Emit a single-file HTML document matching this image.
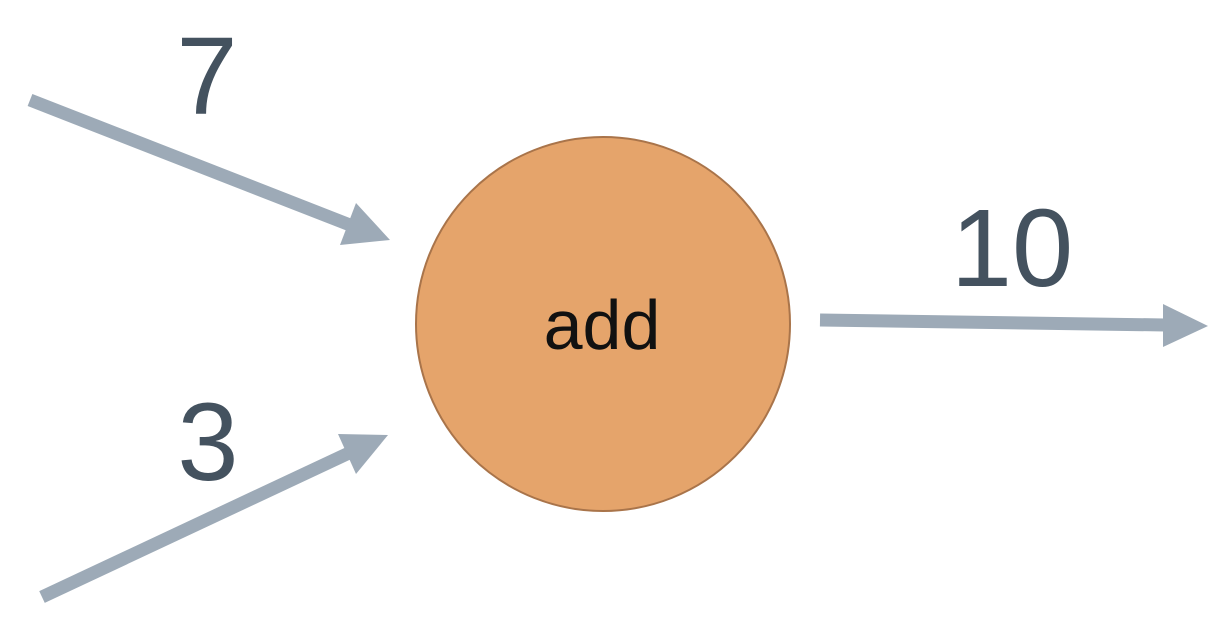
<!DOCTYPE html>
<html><head><meta charset="utf-8"><style>
html,body{margin:0;padding:0;background:#fff;}
svg{display:block;}
text{font-family:"Liberation Sans","DejaVu Sans",sans-serif;}
</style></head><body>
<svg width="1230" height="618" viewBox="0 0 1230 618" xmlns="http://www.w3.org/2000/svg">
<circle cx="603" cy="324" r="187" fill="#E5A46B" stroke="#A9744A" stroke-width="2"/>
<text x="602" y="349" font-size="70" text-anchor="middle" fill="#111">add</text>
<g stroke="#9DAAB7" stroke-width="13" fill="none">
<line x1="30" y1="100" x2="350" y2="225"/>
<line x1="42" y1="597" x2="349" y2="453"/>
<line x1="820" y1="320" x2="1165" y2="325"/>
</g>
<g fill="#9DAAB7">
<polygon points="390,240 340,245 356,203"/>
<polygon points="388,435 356,474 338,434"/>
<polygon points="1208,326 1163,304 1163,347"/>
</g>
<g fill="#44525F" font-size="110" text-anchor="middle">
<text x="207" y="114">7</text>
<text x="208" y="480">3</text>
<text x="1012" y="286">10</text>
</g>
</svg>
</body></html>
